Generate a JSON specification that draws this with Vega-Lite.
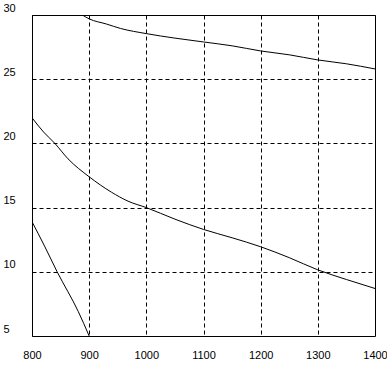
{
  "$schema": "https://vega.github.io/schema/vega-lite/v6.json",
  "autosize": {"type": "none"},
  "padding": {"left": 32, "top": 15, "right": 12, "bottom": 44},
  "width": 343,
  "height": 321,
  "background": "white",
  "config": {
    "view": {"stroke": "black", "strokeWidth": 1},
    "axis": {
      "labelFont": "Liberation Sans",
      "labelFontSize": 11,
      "labelColor": "black",
      "domain": false,
      "ticks": false,
      "tickSize": 0,
      "grid": true,
      "gridColor": "black",
      "gridDash": [4, 3],
      "gridWidth": 1,
      "gridOpacity": 1,
      "title": null
    }
  },
  "data": {
    "values": [
      {"series": "A", "x": 888, "y": 30.0},
      {"series": "A", "x": 900, "y": 29.7},
      {"series": "A", "x": 930, "y": 29.3},
      {"series": "A", "x": 955, "y": 28.95},
      {"series": "A", "x": 1000, "y": 28.55},
      {"series": "A", "x": 1050, "y": 28.2},
      {"series": "A", "x": 1100, "y": 27.9},
      {"series": "A", "x": 1150, "y": 27.6},
      {"series": "A", "x": 1200, "y": 27.2},
      {"series": "A", "x": 1250, "y": 26.9},
      {"series": "A", "x": 1300, "y": 26.5},
      {"series": "A", "x": 1350, "y": 26.2},
      {"series": "A", "x": 1400, "y": 25.8},
      {"series": "B", "x": 800, "y": 22.0},
      {"series": "B", "x": 820, "y": 20.9},
      {"series": "B", "x": 840, "y": 20.0},
      {"series": "B", "x": 863, "y": 18.8},
      {"series": "B", "x": 900, "y": 17.4},
      {"series": "B", "x": 939, "y": 16.2},
      {"series": "B", "x": 968, "y": 15.5},
      {"series": "B", "x": 1000, "y": 15.0},
      {"series": "B", "x": 1050, "y": 14.1},
      {"series": "B", "x": 1100, "y": 13.3},
      {"series": "B", "x": 1150, "y": 12.65},
      {"series": "B", "x": 1200, "y": 11.95},
      {"series": "B", "x": 1250, "y": 11.1},
      {"series": "B", "x": 1300, "y": 10.15},
      {"series": "B", "x": 1350, "y": 9.4},
      {"series": "B", "x": 1400, "y": 8.7},
      {"series": "C", "x": 800, "y": 13.9},
      {"series": "C", "x": 822, "y": 12.0},
      {"series": "C", "x": 844, "y": 10.0},
      {"series": "C", "x": 881, "y": 6.9},
      {"series": "C", "x": 900, "y": 5.0}
    ]
  },
  "mark": {"type": "line", "color": "black", "strokeWidth": 1, "clip": true, "interpolate": "monotone"},
  "encoding": {
    "x": {
      "field": "x", "type": "quantitative",
      "scale": {"domain": [800, 1400], "nice": false, "zero": false},
      "axis": {"values": [800, 900, 1000, 1100, 1200, 1300, 1400], "format": "d", "labelPadding": 13, "labelFlush": false, "labelOverlap": false}
    },
    "y": {
      "field": "y", "type": "quantitative",
      "scale": {"domain": [5, 30], "nice": false, "zero": false},
      "axis": {"values": [5, 10, 15, 20, 25, 30], "labelAlign": "left", "labelPadding": 29, "labelOffset": -7, "labelFlush": false, "labelOverlap": false}
    },
    "detail": {"field": "series", "type": "nominal"},
    "order": {"field": "x", "type": "quantitative"}
  }
}
